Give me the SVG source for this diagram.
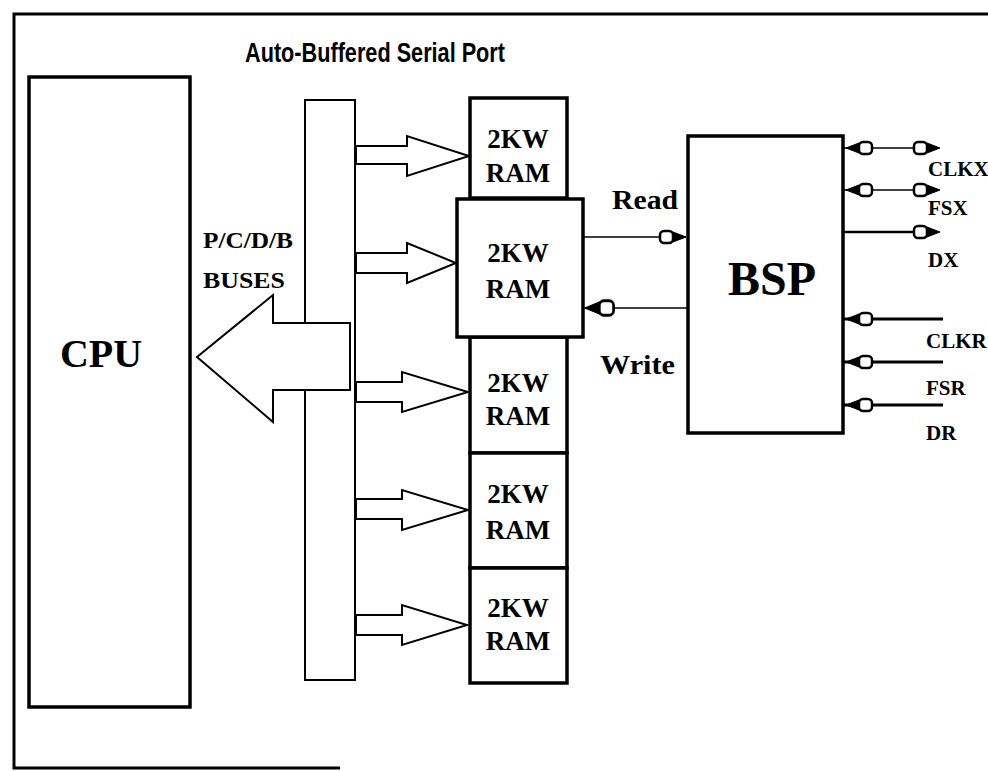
<svg xmlns="http://www.w3.org/2000/svg" xmlns:xlink="http://www.w3.org/1999/xlink" width="988" height="771" viewBox="0 0 988 771">
<style>
.box{fill:#fff;stroke:#000;stroke-width:3.5}
.thin{fill:#fff;stroke:#000;stroke-width:2}
.harrow{fill:#fff;stroke:#000;stroke-width:2;stroke-linejoin:miter}
.lbl{font-family:"Liberation Serif","Times New Roman",serif;fill:#000}
.ram{font-family:"Liberation Serif","Times New Roman",serif;font-size:27px;font-weight:bold;fill:#000;text-anchor:middle}
.sig{font-family:"Liberation Serif","Times New Roman",serif;font-size:21px;font-weight:bold;fill:#000}
.wire{stroke:#000;fill:none}
</style>
<defs>
<g id="pin">
<rect x="-26" y="-6" width="13" height="12" rx="4" fill="#fff" stroke="#000" stroke-width="2.5"/>
<polygon points="-13,-5 0,0 -13,5" fill="#000" stroke="#000" stroke-width="1"/>
</g>
</defs>
<rect width="988" height="771" fill="#fff"/>
<g id="frame">
<path d="M988,14 H14 V768 H340" fill="none" stroke="#000" stroke-width="3"/>
</g>
<g id="title">
<text x="375" y="62" text-anchor="middle" font-family="'Liberation Sans',Arial,sans-serif" font-weight="bold" font-size="28" textLength="260" lengthAdjust="spacingAndGlyphs">Auto-Buffered Serial Port</text>
</g>
<g id="cpu">
<rect class="box" x="29" y="77" width="161" height="630"/>
<text class="lbl" x="101" y="367" text-anchor="middle" font-size="40" font-weight="bold">CPU</text>
</g>
<g id="bus">
<rect class="thin" x="305" y="100" width="50" height="580"/>
<text class="lbl" x="203" y="248" font-size="23" font-weight="bold" textLength="90" lengthAdjust="spacingAndGlyphs">P/C/D/B</text>
<text class="lbl" x="203" y="288" font-size="23" font-weight="bold" textLength="82" lengthAdjust="spacingAndGlyphs">BUSES</text>
</g>
<g id="ram1">
<rect class="box" x="470" y="98" width="97" height="100"/>
<text class="ram" x="518" y="148">2KW</text>
<text class="ram" x="518" y="182">RAM</text>
</g>
<g id="ram3">
<rect class="box" x="470" y="337" width="97" height="116"/>
<text class="ram" x="518" y="392">2KW</text>
<text class="ram" x="518" y="425">RAM</text>
</g>
<g id="ram4">
<rect class="box" x="470" y="453" width="97" height="115"/>
<text class="ram" x="518" y="503">2KW</text>
<text class="ram" x="518" y="539">RAM</text>
</g>
<g id="ram5">
<rect class="box" x="470" y="568" width="97" height="115"/>
<text class="ram" x="518" y="617">2KW</text>
<text class="ram" x="518" y="650">RAM</text>
</g>
<g id="ram2">
<rect class="box" x="457" y="199" width="126" height="138"/>
<text class="ram" x="518" y="262">2KW</text>
<text class="ram" x="518" y="298">RAM</text>
</g>
<g id="bsp">
<rect class="box" x="688" y="136" width="155" height="297"/>
<text class="lbl" x="772" y="295" text-anchor="middle" font-size="48" font-weight="bold">BSP</text>
</g>
<g id="labels">
<text class="lbl" x="612" y="209" font-size="27" font-weight="bold" textLength="66" lengthAdjust="spacingAndGlyphs">Read</text>
<text class="lbl" x="600" y="374" font-size="27" font-weight="bold" textLength="75" lengthAdjust="spacingAndGlyphs">Write</text>
<text class="sig" x="928" y="176">CLKX</text>
<text class="sig" x="928" y="215">FSX</text>
<text class="sig" x="928" y="267">DX</text>
<text class="sig" x="926" y="348">CLKR</text>
<text class="sig" x="926" y="395">FSR</text>
<text class="sig" x="926" y="440">DR</text>
</g>
<g id="connectors">
<polygon class="harrow" points="350,323 273,323 273,295 197,357 273,422 273,390 350,390"/>
<polygon class="harrow" points="356,146 407,146 407,136 469,156 407,176 407,164 356,164"/>
<polygon class="harrow" points="356,253 407,253 407,243 456,263 407,283 407,273 356,273"/>
<polygon class="harrow" points="356,382 402,382 402,372 468,392 402,412 402,402 356,402"/>
<polygon class="harrow" points="356,499 402,499 402,490 468,510 402,530 402,519 356,519"/>
<polygon class="harrow" points="356,615 402,615 402,605 467,625 402,645 402,635 356,635"/>
<line class="wire" x1="583" y1="237" x2="686" y2="237" stroke-width="1.5"/>
<use xlink:href="#pin" transform="translate(686,237)"/>
<line class="wire" x1="585" y1="308" x2="688" y2="308" stroke-width="1.5"/>
<use xlink:href="#pin" transform="translate(585,308) scale(-1.1,1.2)"/>
<line class="wire" x1="843" y1="148" x2="938" y2="148" stroke-width="1.5"/>
<use xlink:href="#pin" transform="translate(846,148) scale(-1,1)"/>
<use xlink:href="#pin" transform="translate(940,148)"/>
<line class="wire" x1="843" y1="190" x2="938" y2="190" stroke-width="1.5"/>
<use xlink:href="#pin" transform="translate(846,190) scale(-1,1)"/>
<use xlink:href="#pin" transform="translate(940,190)"/>
<line class="wire" x1="843" y1="232" x2="930" y2="232" stroke-width="2.5"/>
<use xlink:href="#pin" transform="translate(940,232)"/>
<line class="wire" x1="843" y1="319" x2="943" y2="319" stroke-width="3"/>
<use xlink:href="#pin" transform="translate(846,319) scale(-1,1)"/>
<line class="wire" x1="843" y1="362" x2="943" y2="362" stroke-width="3"/>
<use xlink:href="#pin" transform="translate(846,362) scale(-1,1)"/>
<line class="wire" x1="843" y1="405" x2="943" y2="405" stroke-width="3"/>
<use xlink:href="#pin" transform="translate(846,405) scale(-1,1)"/>
</g>
</svg>
